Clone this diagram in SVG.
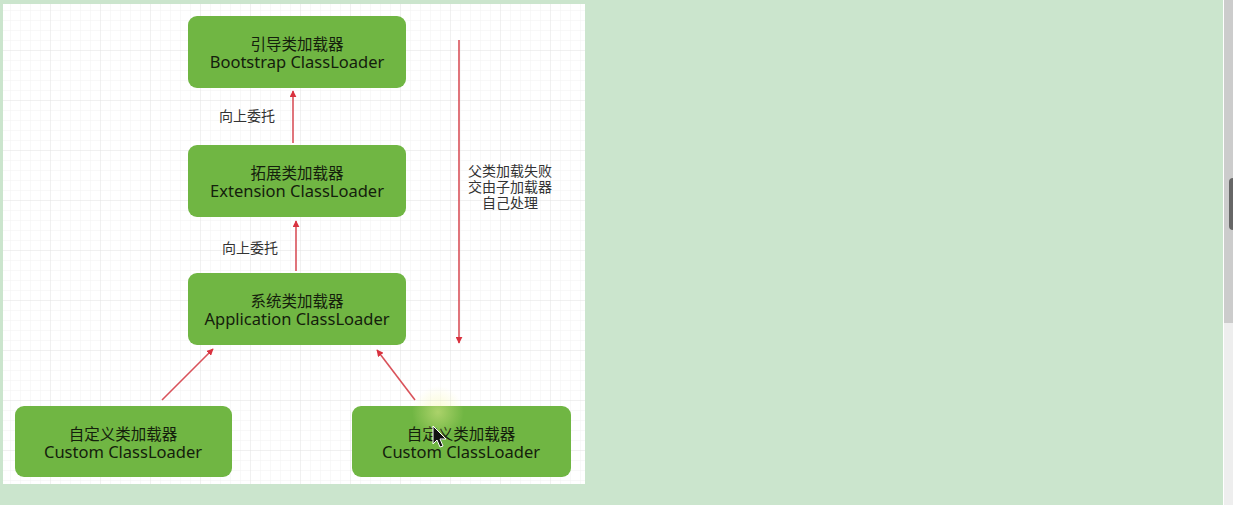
<svg xmlns="http://www.w3.org/2000/svg" width="1233" height="505" viewBox="0 0 1233 505">
<style>
.node rect{fill:#70b643;}
.node text{fill:#14200c;font-family:"Noto Sans","Noto Sans CJK SC",sans-serif;text-anchor:middle;}
.node .zh{font-family:"Noto Sans CJK SC",sans-serif;font-size:15.5px;}
.node .en{font-size:16.5px;}
.lbl{fill:#333;font-family:"Noto Sans CJK SC",sans-serif;font-size:14px;text-anchor:middle;}
.conn line{stroke:#d9525a;stroke-width:1.6;marker-end:url(#ah);}
</style>
<defs>
<marker id="ah" viewBox="0 0 10 10" refX="9" refY="5" markerWidth="7" markerHeight="7" markerUnits="userSpaceOnUse" orient="auto">
<path d="M0,0 L10,5 L0,10 z" fill="#d9323f"/>
</marker>
<pattern id="minor" width="10" height="10" patternUnits="userSpaceOnUse">
<path d="M10,0 L0,0 0,10" fill="none" stroke="#f1f1f1" stroke-width="1"/>
</pattern>
<pattern id="major" width="50" height="50" patternUnits="userSpaceOnUse">
<rect width="50" height="50" fill="url(#minor)"/>
<path d="M50,0 L0,0 0,50" fill="none" stroke="#e6e6e6" stroke-width="1"/>
</pattern>
<radialGradient id="glow">
<stop offset="0" stop-color="#f4f59a" stop-opacity="0.45"/>
<stop offset="1" stop-color="#f4f59a" stop-opacity="0"/>
</radialGradient>
</defs>
<rect width="1233" height="505" fill="#cbe5cd"/>
<rect x="1223" y="0" width="1" height="505" fill="#ffffff"/>
<rect x="1224" y="0" width="9" height="323" fill="#cccccc"/>
<rect x="1224" y="323" width="9" height="182" fill="#eeeeee"/>
<rect x="1229" y="178" width="8" height="52" rx="4" fill="#666666"/>
<rect x="3" y="4" width="582" height="480" fill="#ffffff"/>
<rect x="3" y="4" width="582" height="480" fill="url(#major)"/>

<g id="connectors" class="conn">
<line x1="293" y1="143" x2="293" y2="91"/>
<line x1="296" y1="271" x2="296" y2="221"/>
<line x1="162" y1="400" x2="213" y2="349"/>
<line x1="415" y1="400" x2="377" y2="350"/>
<line x1="459" y1="40" x2="459" y2="343"/>
</g>
<text class="lbl" x="247" y="121">向上委托</text>
<text class="lbl" x="250" y="253">向上委托</text>
<text class="lbl" x="510" y="176">父类加载失败</text>
<text class="lbl" x="510" y="192">交由子加载器</text>
<text class="lbl" x="510" y="208">自己处理</text>

<g id="bootstrap" class="node">
<rect x="188" y="16" width="218" height="72" rx="9"/>
<text class="zh" x="297" y="50">引导类加载器</text>
<text class="en" x="297" y="68">Bootstrap ClassLoader</text>
</g>
<g id="extension" class="node">
<rect x="188" y="145" width="218" height="72" rx="9"/>
<text class="zh" x="297" y="179">拓展类加载器</text>
<text class="en" x="297" y="197">Extension ClassLoader</text>
</g>
<g id="application" class="node">
<rect x="188" y="273" width="218" height="72" rx="9"/>
<text class="zh" x="297" y="307">系统类加载器</text>
<text class="en" x="297" y="325">Application ClassLoader</text>
</g>
<g id="custom1" class="node">
<rect x="15" y="406" width="217" height="71" rx="9"/>
<text class="zh" x="123" y="440">自定义类加载器</text>
<text class="en" x="123" y="458">Custom ClassLoader</text>
</g>
<g id="custom2" class="node">
<rect x="352" y="406" width="219" height="71" rx="9"/>
<text class="zh" x="461" y="440">自定义类加载器</text>
<text class="en" x="461" y="458">Custom ClassLoader</text>
</g>
<circle cx="438" cy="412" r="26" fill="url(#glow)"/>
<path d="M433,426 L433,444 L437,440 L440,447 L443,446 L440,439 L446,439 z" fill="#111" stroke="#fff" stroke-width="1"/>
</svg>
